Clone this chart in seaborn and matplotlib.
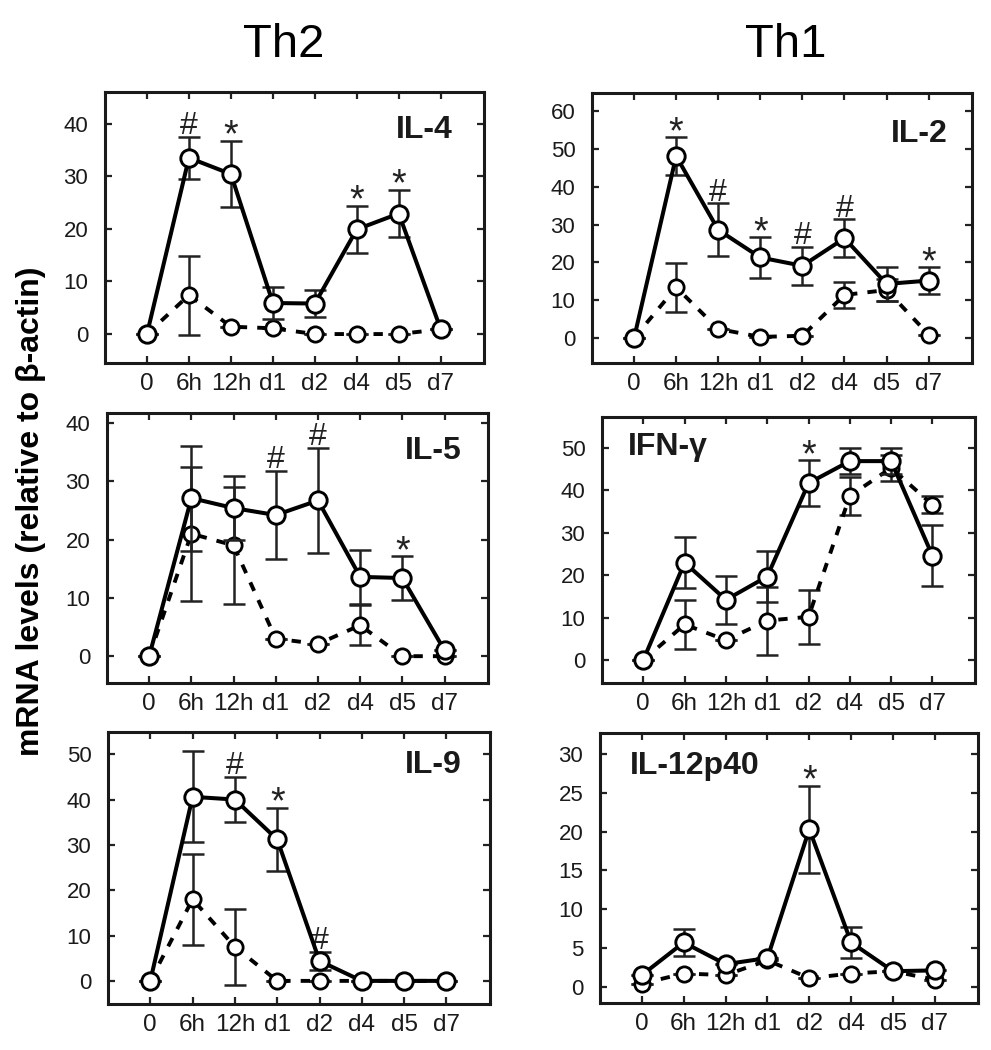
import numpy as np
import pandas as pd
import matplotlib
matplotlib.use("Agg")
import matplotlib.pyplot as plt
import seaborn as sns

# ---------------- data ----------------
times = ["0", "6h", "12h", "d1", "d2", "d4", "d5", "d7"]

il4_solid = [0, 33.5, 30.4, 5.9, 5.8, 19.9, 22.9, 0.9]
il4_solid_err = [0, 4, 6.3, 3, 2.5, 4.5, 4.5, 0]
il4_dash = [0, 7.4, 1.4, 1.1, 0, 0, 0, 0.9]
il4_dash_err = [0, 7.5, 0, 0, 0, 0, 0, 0]
il4_sig = ["", "#", "*", "", "", "*", "*", ""]

il2_solid = [0, 48.1, 28.6, 21.3, 19.1, 26.4, 14.3, 15.2]
il2_solid_err = [0, 5, 7, 5.3, 5, 5, 4.5, 3.5]
il2_dash = [0, 13.4, 2.4, 0.3, 0.6, 11.4, 12.7, 0.9]
il2_dash_err = [0, 6.5, 0, 0, 0, 3.5, 3, 0]
il2_sig = ["", "*", "#", "*", "#", "#", "", "*"]

il5_solid = [0, 27.1, 25.4, 24.2, 26.7, 13.6, 13.4, 1.0]
il5_solid_err = [0, 9, 5.5, 7.6, 9, 4.6, 3.7, 0]
il5_dash = [0, 21, 19, 3.0, 2.1, 5.3, 0, 0]
il5_dash_err = [0, 11.5, 10, 0, 0, 3.4, 0, 0]
il5_sig = ["", "", "", "#", "#", "", "*", ""]

ifn_solid = [0, 23, 14.2, 19.7, 41.7, 46.9, 46.9, 24.6]
ifn_solid_err = [0, 6, 5.7, 6, 5.4, 3, 3, 7.2]
ifn_dash = [0, 8.4, 4.7, 9.3, 10.2, 38.7, 45.3, 36.6]
ifn_dash_err = [0, 5.8, 0, 8, 6.3, 4.5, 3, 2]
ifn_sig = ["", "", "", "", "*", "", "", ""]

il9_solid = [0, 40.6, 40, 31.2, 4.4, 0, 0, 0]
il9_solid_err = [0, 10, 5, 7, 2, 0, 0, 0]
il9_dash = [0, 18, 7.5, 0, 0, 0, 0, 0]
il9_dash_err = [0, 10, 8.3, 0, 0, 0, 0, 0]
il9_sig = ["", "", "#", "*", "#", "", "", ""]

il12_solid = [1.5, 5.7, 2.9, 3.7, 20.3, 5.7, 2.0, 2.1]
il12_solid_err = [0, 1.8, 0, 0, 5.6, 2, 0, 0]
il12_dash = [0.4, 1.7, 1.5, 3.4, 1.1, 1.7, 2.0, 0.9]
il12_dash_err = [0, 0, 0, 0, 0, 0, 0, 0]
il12_sig = ["", "", "", "", "*", "", "", ""]

column_titles = ["Th2", "Th1"]
ylabel = "mRNA levels (relative to β-actin)"

# ---------------- style ----------------
sns.set_style("white")
plt.rcParams["font.family"] = ["Liberation Sans", "DejaVu Sans"]

W, H = 991, 1050
fig = plt.figure(figsize=(W / 100, H / 100), dpi=100)

def box(l, r, t, b):
    return [l / W, 1 - b / H, (r - l) / W, (b - t) / H]

panels = [
    dict(name="IL-4", s=il4_solid, se=il4_solid_err, d=il4_dash, de=il4_dash_err, sig=il4_sig,
         rect=box(105, 484, 92, 363), ylim=(-5.5, 46), yt=np.arange(0, 41, 10),
         lab=(0.918, 0.915, "right")),
    dict(name="IL-2", s=il2_solid, se=il2_solid_err, d=il2_dash, de=il2_dash_err, sig=il2_sig,
         rect=box(592, 972, 93, 363), ylim=(-6.6, 64.8), yt=np.arange(0, 61, 10),
         lab=(0.937, 0.905, "right")),
    dict(name="IL-5", s=il5_solid, se=il5_solid_err, d=il5_dash, de=il5_dash_err, sig=il5_sig,
         rect=box(107, 488, 413, 683), ylim=(-4.6, 41.7), yt=np.arange(0, 41, 10),
         lab=(0.932, 0.915, "right")),
    dict(name="IFN-γ", s=ifn_solid, se=ifn_solid_err, d=ifn_dash, de=ifn_dash_err, sig=ifn_sig,
         rect=box(602, 975, 417, 683), ylim=(-5.4, 57.3), yt=np.arange(0, 51, 10),
         lab=(0.07, 0.945, "left")),
    dict(name="IL-9", s=il9_solid, se=il9_solid_err, d=il9_dash, de=il9_dash_err, sig=il9_sig,
         rect=box(108, 490, 732, 1004), ylim=(-5.1, 54.9), yt=np.arange(0, 51, 10),
         lab=(0.927, 0.935, "right")),
    dict(name="IL-12p40", s=il12_solid, se=il12_solid_err, d=il12_dash, de=il12_dash_err, sig=il12_sig,
         rect=box(600, 978, 733, 1003), ylim=(-2.1, 32.7), yt=np.arange(0, 31, 5),
         lab=(0.079, 0.935, "left")),
]

x = np.arange(len(times))

for p in panels:
    ax = fig.add_axes(p["rect"])
    df = pd.DataFrame({"x": np.concatenate([x, x]),
                       "y": np.concatenate([p["d"], p["s"]]),
                       "grp": ["dash"] * len(x) + ["solid"] * len(x)})
    # dashed series first, then solid on top
    ax.errorbar(x, p["d"], yerr=p["de"], fmt="none", ecolor="#222222",
                elinewidth=1.8, capsize=8, capthick=1.8, zorder=2)
    sns.lineplot(data=df[df.grp == "dash"], x="x", y="y", ax=ax, color="black",
                 linewidth=2.8, marker="o", markersize=11,
                 markerfacecolor="white", markeredgecolor="black", markeredgewidth=2.0,
                 zorder=3, legend=False)
    ax.lines[-1].set_linestyle((0, (2.4, 2.6)))
    ax.errorbar(x, p["s"], yerr=p["se"], fmt="none", ecolor="#222222",
                elinewidth=1.8, capsize=8, capthick=1.8, zorder=4)
    sns.lineplot(data=df[df.grp == "solid"], x="x", y="y", ax=ax, color="black",
                 linewidth=2.9, marker="o", markersize=12.5,
                 markerfacecolor="white", markeredgecolor="black", markeredgewidth=2.1,
                 zorder=5, legend=False)

    # significance marks
    tops = np.maximum(np.array(p["s"]) + np.array(p["se"]), 0)
    for xi, mark, top in zip(x, p["sig"], tops):
        if mark == "*":
            ax.annotate(mark, xy=(xi, top), xytext=(0, -4), textcoords="offset points",
                        ha="center", va="baseline", fontsize=27, color="#222222")
        elif mark:
            ax.annotate(mark, xy=(xi, top), xytext=(0, 2), textcoords="offset points",
                        ha="center", va="baseline", fontsize=23, color="#222222")

    lx, ly, ha = p["lab"]
    ax.text(lx, ly, p["name"], transform=ax.transAxes, ha=ha, va="top",
            fontsize=23, fontweight="bold", color="#1a1a1a")

    ax.set_xlim(-1.0, 8.03)
    ax.set_ylim(*p["ylim"])
    ax.set_xticks(x)
    ax.set_xticklabels(times)
    ax.set_yticks(p["yt"])
    ax.set_xlabel("")
    ax.set_ylabel("")
    ax.tick_params(axis="both", direction="in", length=5, width=1.6,
                   top=True, right=True, bottom=True, left=True, colors="#222222")
    ax.tick_params(axis="x", labelsize=17.5, pad=7, labelcolor="#1a1a1a")
    ax.tick_params(axis="y", labelsize=16, pad=12, labelcolor="#1a1a1a")
    for sp in ax.spines.values():
        sp.set_visible(True)
        sp.set_linewidth(2.2)
        sp.set_color("#1a1a1a")

fig.text(284 / W, 1 - 57 / H, column_titles[0], ha="center", va="baseline",
         fontsize=34, color="black")
fig.text(786 / W, 1 - 57 / H, column_titles[1], ha="center", va="baseline",
         fontsize=34, color="black")
fig.text(31 / W, 1 - 511 / H, ylabel, rotation=90, ha="center", va="center",
         fontsize=23, fontweight="bold", color="black")

fig.savefig("out.png", dpi=100, facecolor="white")
